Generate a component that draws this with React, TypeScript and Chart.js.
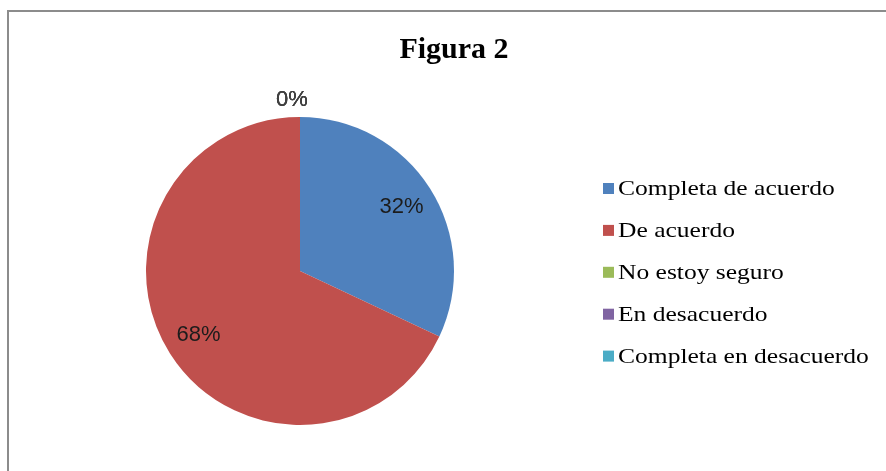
import React, { useEffect, useRef } from "react";
import { Chart, registerables } from "chart.js";

Chart.register(...registerables);

const TITLE = "Figura 2";
const categories = [
  "Completa de acuerdo",
  "De acuerdo",
  "No estoy seguro",
  "En desacuerdo",
  "Completa en desacuerdo",
];
const values = [32, 68, 0, 0, 0];
const colors = ["#4F81BD", "#C0504D", "#9BBB59", "#8064A2", "#4BACC6"];

const W = 886;
const H = 471;

const labelPlugin = {
  id: "pctLabels",
  afterDatasetsDraw(chart: any) {
    const ctx = chart.ctx;
    const meta = chart.getDatasetMeta(0);
    const total = values.reduce((a, b) => a + b, 0);
    ctx.save();
    ctx.font = '22px "Liberation Sans", Arial, sans-serif';
    ctx.textAlign = "center";
    ctx.textBaseline = "middle";
    meta.data.forEach((arc: any, i: number) => {
      const p = arc.getProps(["x", "y", "startAngle", "endAngle", "outerRadius"], true);
      const v = values[i];
      const txt = Math.round((v / total) * 100) + "%";
      if (v > 0) {
        const mid = (p.startAngle + p.endAngle) / 2;
        const d = p.outerRadius * 0.78;
        ctx.fillStyle = "#1c1c1c";
        ctx.fillText(txt, p.x + Math.cos(mid) * d, p.y + Math.sin(mid) * d);
      } else {
        const a = p.startAngle;
        const d = p.outerRadius + 17;
        ctx.fillStyle = "#404040";
        ctx.fillText(txt, p.x + Math.cos(a) * d - 8, p.y + Math.sin(a) * d);
      }
    });
    ctx.restore();
  },
};

const titleLegendPlugin = {
  id: "titleLegend",
  afterDraw(chart: any) {
    const ctx = chart.ctx;
    ctx.save();
    // title
    ctx.fillStyle = "#000";
    ctx.font = 'bold 30px "Liberation Serif", "Times New Roman", serif';
    ctx.textAlign = "center";
    ctx.textBaseline = "alphabetic";
    ctx.fillText(TITLE, 454, 58);
    // legend
    const x0 = 603;
    const y0 = 188.5;
    const step = 41.9;
    const box = 11;
    ctx.font = '22px "Liberation Serif", "Times New Roman", serif';
    ctx.textAlign = "left";
    ctx.textBaseline = "middle";
    categories.forEach((c, i) => {
      const y = y0 + i * step;
      ctx.fillStyle = colors[i];
      ctx.fillRect(x0, y - box / 2, box, box);
      ctx.fillStyle = "#000";
      ctx.save();
      ctx.translate(x0 + box + 4, y + 1);
      ctx.scale(1.16, 1);
      ctx.fillText(c, 0, 0);
      ctx.restore();
    });
    ctx.restore();
  },
};

export default function App() {
  const ref = useRef<HTMLCanvasElement | null>(null);
  useEffect(() => {
    if (!ref.current) return;
    const chart = new Chart(ref.current, {
      type: "pie",
      data: {
        labels: categories,
        datasets: [
          {
            data: values,
            backgroundColor: colors,
            borderWidth: 0,
          },
        ],
      },
      options: {
        animation: false,
        responsive: false,
        maintainAspectRatio: false,
        layout: { padding: { left: 146, right: 432, top: 117, bottom: 46 } },
        plugins: {
          legend: { display: false },
          title: { display: false },
          tooltip: { enabled: false },
        },
      },
      plugins: [labelPlugin, titleLegendPlugin],
    });
    return () => chart.destroy();
  }, []);
  return (
    <div style={{ position: "fixed", left: 0, top: 0, width: W, height: H, background: "#fff" }}>
      <div
        style={{
          position: "absolute",
          left: 7,
          top: 10,
          right: -10,
          bottom: -10,
          borderLeft: "2px solid #8c8c8c",
          borderTop: "2px solid #8c8c8c",
        }}
      />
      <canvas ref={ref} width={W} height={H} style={{ position: "absolute", left: 0, top: 0 }} />
    </div>
  );
}
